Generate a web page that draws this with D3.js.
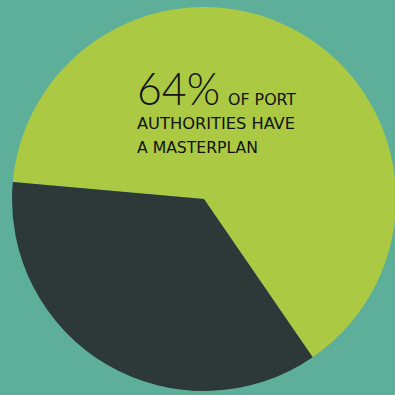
<!DOCTYPE html>
<html>
<head>
<meta charset="utf-8">
<script src="https://cdn.jsdelivr.net/npm/d3@7"></script>
<style>
  html, body { margin: 0; padding: 0; background: #5eaf9a; }
  svg { display: block; }
</style>
</head>
<body>
<script>
// Share of port authorities with a masterplan
const categories = ["Have a masterplan", "No masterplan"];
const values = [64, 36];
const colors = ["#abc943", "#2d3838"];
const headline = "64%";
const captionLines = ["OF PORT", "AUTHORITIES HAVE", "A MASTERPLAN"];

const W = 395, H = 395;
const cx = 204, cy = 199, radius = 192;
const startDeg = -84.9;

const svg = d3.select("body").append("svg")
  .attr("width", W).attr("height", H);

svg.append("rect").attr("width", W).attr("height", H).attr("fill", "#5eaf9a");

const pie = d3.pie()
  .sort(null)
  .value(d => d)
  .startAngle(startDeg * Math.PI / 180)
  .endAngle((startDeg + 360) * Math.PI / 180);

const arc = d3.arc().innerRadius(0).outerRadius(radius);

const color = d3.scaleOrdinal().domain(categories).range(colors);

svg.append("g")
  .attr("transform", `translate(${cx},${cy})`)
  .selectAll("path")
  .data(pie(values))
  .join("path")
  .attr("d", arc)
  .attr("fill", (d, i) => color(categories[i]));

// Headline figure and caption
const txt = svg.append("g").attr("fill", "#111");

txt.append("text")
  .attr("x", 137).attr("y", 105)
  .attr("font-family", "Lato, 'Open Sans', sans-serif")
  .attr("font-weight", 300)
  .attr("font-size", 45)
  .attr("textLength", 83)
  .attr("lengthAdjust", "spacingAndGlyphs")
  .text(headline);

const capX = [228, 137, 137];
const capY = [105, 129, 153];
const capW = [68, 158, 121];

captionLines.forEach((line, i) => {
  txt.append("text")
    .attr("x", capX[i]).attr("y", capY[i])
    .attr("font-family", "'DejaVu Sans Condensed', 'DejaVu Sans', sans-serif")
    .attr("font-stretch", "condensed")
    .attr("font-size", 16.5)
    .attr("textLength", capW[i])
    .attr("lengthAdjust", "spacingAndGlyphs")
    .text(line);
});
</script>
</body>
</html>
